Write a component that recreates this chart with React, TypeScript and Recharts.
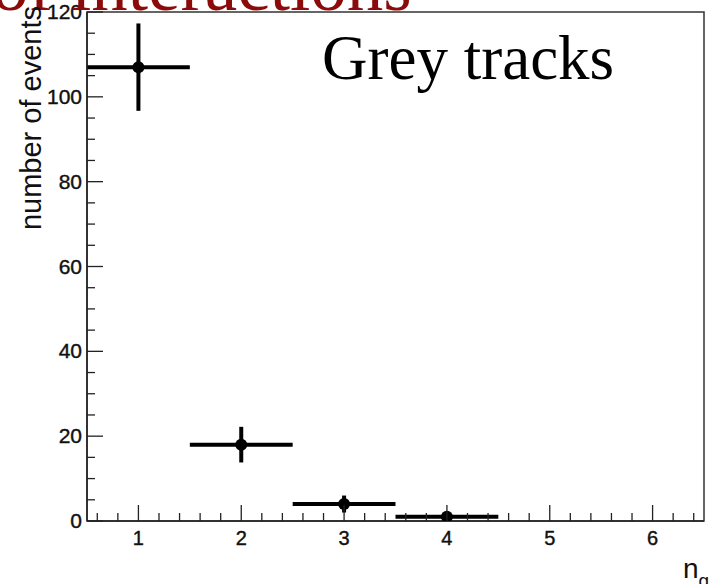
import { ComposedChart, Scatter, ErrorBar, XAxis, YAxis, ReferenceArea } from 'recharts'

// grey track multiplicity n_g, events per bin and their errors
const ngValues = [1, 2, 3, 4]
const eventCounts = [107, 18, 4, 1]
const countErrors = [10.3, 4.2, 2.0, 1.0]
const binHalfWidths = [0.5, 0.5, 0.5, 0.5]

const xTicks = Array.from({ length: 30 }, (_, i) => Math.round((0.6 + i * 0.2) * 10) / 10)
const yTicks = Array.from({ length: 25 }, (_, i) => i * 5)

const points = ngValues.map((n, i) => ({
  x: n,
  y: eventCounts[i],
  ex: binHalfWidths[i],
  ey: countErrors[i],
}))

const axisFont = '"Liberation Sans", Arial, Helvetica, sans-serif'
const serifFont = '"Liberation Serif", "Times New Roman", serif'

function XTick(props: any) {
  const { x, y, payload } = props
  const v = payload.value
  const major = Math.abs(v - Math.round(v)) < 1e-6
  return (
    <g>
      <line x1={x} x2={x} y1={y} y2={y - (major ? 16 : 8)} stroke="#222" strokeWidth={1.3} />
      {major && (
        <text x={x} y={y + 24} textAnchor="middle" fontFamily={axisFont} fontSize={20} fill="#111" stroke="#111" strokeWidth={0.4}>
          {v}
        </text>
      )}
    </g>
  )
}

function YTick(props: any) {
  const { x, y, payload } = props
  const v = payload.value
  const major = v % 20 === 0
  return (
    <g>
      <line x1={x} x2={x + (major ? 16 : 8)} y1={y} y2={y} stroke="#222" strokeWidth={1.3} />
      {major && (
        <text x={x - 5} y={y + 7} textAnchor="end" fontFamily={axisFont} fontSize={21} fill="#111" stroke="#111" strokeWidth={0.4}>
          {v}
        </text>
      )}
    </g>
  )
}

export default function App() {
  return (
    <div style={{ position: 'absolute', left: 0, top: 0, width: 711, height: 584, background: '#fff', overflow: 'hidden' }}>
      <ComposedChart width={711} height={584} data={points} margin={{ top: 12, right: 7, bottom: 0, left: 0 }}>
        <XAxis
          type="number"
          dataKey="x"
          domain={[0.5, 6.5]}
          ticks={xTicks}
          interval={0}
          height={63}
          tickSize={0}
          tickMargin={0}
          tick={<XTick />}
          axisLine={{ stroke: '#222', strokeWidth: 1.5 }}
          allowDataOverflow
        />
        <YAxis
          type="number"
          dataKey="y"
          domain={[0, 120]}
          ticks={yTicks}
          interval={0}
          width={87}
          tickSize={0}
          tickMargin={0}
          tick={<YTick />}
          axisLine={{ stroke: '#222', strokeWidth: 1.5 }}
          allowDataOverflow
        />
        <ReferenceArea x1={0.5} x2={6.5} y1={0} y2={120} fill="none" stroke="#333" strokeWidth={1.5} ifOverflow="visible" />
        <Scatter
          data={points}
          dataKey="y"
          fill="#000"
          isAnimationActive={false}
          shape={(p: any) => <circle cx={p.cx} cy={p.cy} r={6} fill="#000" />}
        >
          <ErrorBar dataKey="ex" direction="x" width={0} stroke="#000" strokeWidth={4} isAnimationActive={false} />
          <ErrorBar dataKey="ey" direction="y" width={0} stroke="#000" strokeWidth={4} isAnimationActive={false} />
        </Scatter>
      </ComposedChart>
      <svg width={711} height={584} style={{ position: 'absolute', left: 0, top: 0, pointerEvents: 'none' }}>
        <text x={-8} y={10} fontFamily={serifFont} fontSize={73} fill="#8b0a0a">
          of interactions
        </text>
        <text x={322} y={79} fontFamily={serifFont} fontSize={63} fill="#000">
          Grey tracks
        </text>
        <text
          transform="translate(41, 6) rotate(-90)"
          textAnchor="end"
          fontFamily={axisFont}
          fontSize={29}
          fill="#111"
        >
          number of events
        </text>
        <text x={683} y={578} fontFamily={axisFont} fontSize={28} fill="#111">
          n
          <tspan dy={9} fontSize={19}>g</tspan>
        </text>
      </svg>
    </div>
  )
}
